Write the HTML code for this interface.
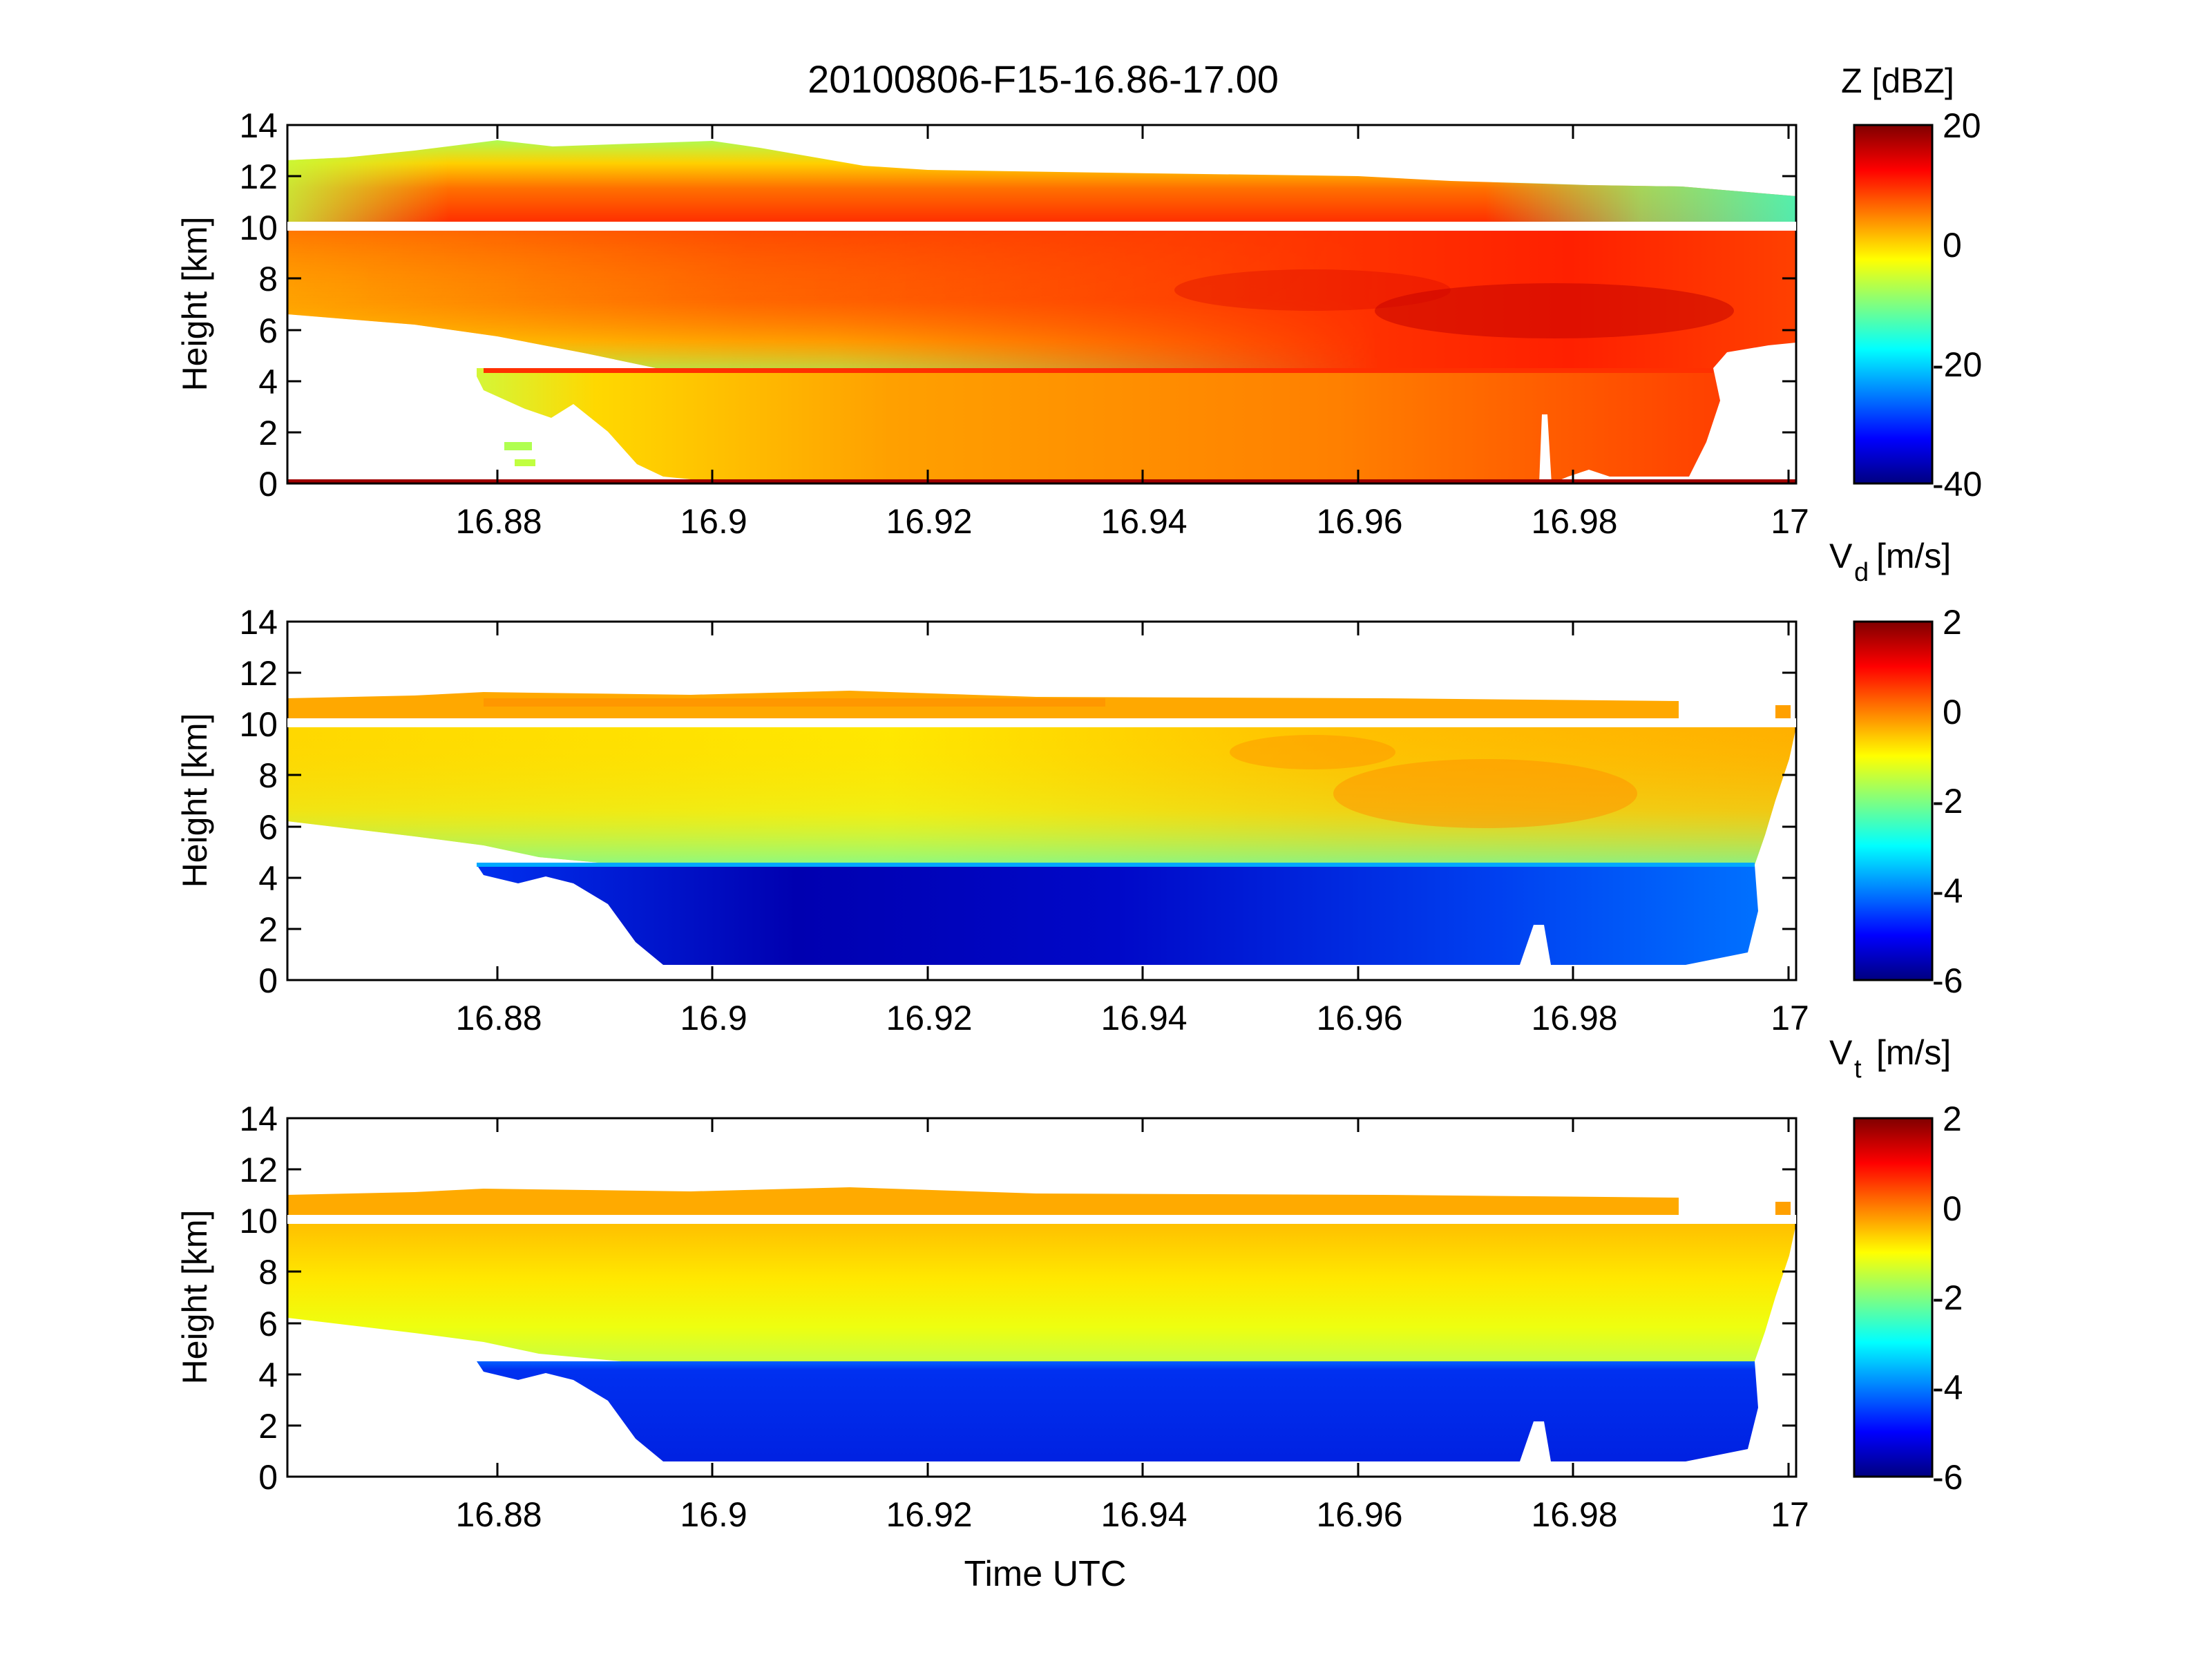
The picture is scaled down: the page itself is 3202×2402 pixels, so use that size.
<!DOCTYPE html>
<html><head><meta charset="utf-8"><style>
html,body{margin:0;padding:0;background:#fff;}
svg{display:block;}
text{font-family:"Liberation Sans",Arial,sans-serif;fill:#000;}
</style></head><body>
<svg width="3202" height="2402" viewBox="0 0 3202 2402" xmlns="http://www.w3.org/2000/svg">
<defs>
<linearGradient id="jet" x1="0" y1="0" x2="0" y2="1">
<stop offset="0" stop-color="#800000"/><stop offset="0.125" stop-color="#ff0000"/>
<stop offset="0.375" stop-color="#ffff00"/><stop offset="0.625" stop-color="#00ffff"/>
<stop offset="0.875" stop-color="#0000ff"/><stop offset="1" stop-color="#000080"/>
</linearGradient>
<linearGradient id="zTop" gradientUnits="userSpaceOnUse" x1="0" y1="200" x2="0" y2="321">
<stop offset="0" stop-color="#a8ff58"/><stop offset="0.3" stop-color="#ffd000"/>
<stop offset="0.6" stop-color="#ff7000"/><stop offset="1" stop-color="#ff3000"/>
</linearGradient>
<linearGradient id="zTopR" gradientUnits="userSpaceOnUse" x1="2150" y1="0" x2="2600" y2="0">
<stop offset="0" stop-color="#80ff80" stop-opacity="0"/><stop offset="0.5" stop-color="#80ff80" stop-opacity="0.7"/><stop offset="1" stop-color="#40ffc0" stop-opacity="0.9"/>
</linearGradient>
<linearGradient id="zTopL" gradientUnits="userSpaceOnUse" x1="416" y1="0" x2="650" y2="0">
<stop offset="0" stop-color="#c0ff40" stop-opacity="0.8"/><stop offset="1" stop-color="#c0ff40" stop-opacity="0"/>
</linearGradient>
<linearGradient id="zMain" gradientUnits="userSpaceOnUse" x1="416" y1="0" x2="2600" y2="0">
<stop offset="0" stop-color="#ffa000"/><stop offset="0.3" stop-color="#ff6000"/>
<stop offset="0.6" stop-color="#ff4000"/><stop offset="0.85" stop-color="#ff2000"/><stop offset="1" stop-color="#ff4000"/>
</linearGradient>
<linearGradient id="zMainV" gradientUnits="userSpaceOnUse" x1="0" y1="334" x2="0" y2="533">
<stop offset="0" stop-color="#ff0000" stop-opacity="0.25"/><stop offset="0.5" stop-color="#ffb000" stop-opacity="0.1"/>
<stop offset="0.8" stop-color="#ffe000" stop-opacity="0.6"/><stop offset="1" stop-color="#b0ff50" stop-opacity="0.9"/>
</linearGradient>
<linearGradient id="fadeH" gradientUnits="userSpaceOnUse" x1="416" y1="0" x2="2000" y2="0">
<stop offset="0" stop-color="#fff"/><stop offset="0.5" stop-color="#fff" stop-opacity="0.8"/><stop offset="1" stop-color="#fff" stop-opacity="0"/>
</linearGradient>
<mask id="mFade" maskUnits="userSpaceOnUse" x="0" y="0" width="3202" height="800">
<rect x="416" y="300" width="2184" height="260" fill="url(#fadeH)"/>
</mask>
<linearGradient id="zLow" gradientUnits="userSpaceOnUse" x1="640" y1="0" x2="2490" y2="0">
<stop offset="0" stop-color="#c8ff48"/><stop offset="0.12" stop-color="#ffd800"/>
<stop offset="0.35" stop-color="#ffa000"/><stop offset="0.7" stop-color="#ff8000"/><stop offset="1" stop-color="#ff4000"/>
</linearGradient>
<linearGradient id="vdMain" gradientUnits="userSpaceOnUse" x1="416" y1="0" x2="2600" y2="0">
<stop offset="0" stop-color="#ffd800"/><stop offset="0.4" stop-color="#ffe800"/>
<stop offset="0.7" stop-color="#ffc000"/><stop offset="1" stop-color="#ffb000"/>
</linearGradient>
<linearGradient id="vdMainV" gradientUnits="userSpaceOnUse" x1="0" y1="334" x2="0" y2="533">
<stop offset="0" stop-color="#ffd000" stop-opacity="0"/><stop offset="0.6" stop-color="#d0ff40" stop-opacity="0.3"/>
<stop offset="1" stop-color="#70ffa0" stop-opacity="0.8"/>
</linearGradient>
<linearGradient id="vdBlue" gradientUnits="userSpaceOnUse" x1="690" y1="0" x2="2540" y2="0">
<stop offset="0" stop-color="#0030f0"/><stop offset="0.25" stop-color="#0000b0"/>
<stop offset="0.5" stop-color="#0008c8"/><stop offset="0.8" stop-color="#0040f0"/><stop offset="1" stop-color="#0070ff"/>
</linearGradient>
<linearGradient id="vtMain" gradientUnits="userSpaceOnUse" x1="0" y1="334" x2="0" y2="533">
<stop offset="0" stop-color="#ffc000"/><stop offset="0.4" stop-color="#ffe800"/>
<stop offset="0.75" stop-color="#eeff10"/><stop offset="1" stop-color="#c8ff40"/>
</linearGradient>
<linearGradient id="vtBlue" gradientUnits="userSpaceOnUse" x1="0" y1="533" x2="0" y2="690">
<stop offset="0" stop-color="#0060ff"/><stop offset="0.08" stop-color="#0030f0"/><stop offset="1" stop-color="#0020e0"/>
</linearGradient>
<g id="frame">
<rect x="416" y="181" width="2184" height="519" fill="none" stroke="#000" stroke-width="3"/>
<path d="M416 700h20M416 626h20M416 552h20M416 478h20M416 403h20M416 329h20M416 255h20M416 181h20
M2600 700h-20M2600 626h-20M2600 552h-20M2600 478h-20M2600 403h-20M2600 329h-20M2600 255h-20M2600 181h-20
M720 700v-20M1031 700v-20M1343 700v-20M1654 700v-20M1966 700v-20M2277 700v-20M2589 700v-20
M720 181v20M1031 181v20M1343 181v20M1654 181v20M1966 181v20M2277 181v20M2589 181v20" stroke="#000" stroke-width="3" fill="none"/>
<g font-size="50" text-anchor="end">
<text x="402" y="718">0</text><text x="402" y="644">2</text><text x="402" y="570">4</text><text x="402" y="496">6</text>
<text x="402" y="421">8</text><text x="402" y="347">10</text><text x="402" y="273">12</text><text x="402" y="199">14</text>
</g>
<g font-size="50" text-anchor="middle">
<text x="722" y="772">16.88</text><text x="1033" y="772">16.9</text><text x="1345" y="772">16.92</text>
<text x="1656" y="772">16.94</text><text x="1968" y="772">16.96</text><text x="2279" y="772">16.98</text><text x="2591" y="772">17</text>
</g>
<text font-size="50" text-anchor="middle" transform="translate(299,440) rotate(-90)">Height [km]</text>
<rect x="2684" y="181" width="113" height="519" fill="url(#jet)" stroke="#000" stroke-width="3"/>
</g>
</defs>

<text x="1510" y="134" font-size="56" text-anchor="middle">20100806-F15-16.86-17.00</text>

<!-- Panel 1 Z -->
<g>
<polygon fill="url(#zTop)" points="416,232 500,228 600,218 720,203 800,212 1031,204 1100,214 1250,240 1343,246 1600,250 1966,255 2100,262 2300,268 2434,270 2600,284 2600,321 416,321"/>
<polygon fill="url(#zTopR)" points="2150,262 2300,268 2434,270 2600,284 2600,321 2150,321"/>
<polygon fill="url(#zTopL)" points="416,232 500,228 650,215 650,321 416,321"/>
<polygon fill="url(#zMain)" points="416,334 2600,334 2600,496 2560,500 2500,510 2480,533 950,533 850,512 720,487 600,470 416,455"/>
<polygon fill="url(#zMainV)" mask="url(#mFade)" points="416,334 2600,334 2600,533 950,533 850,512 720,487 600,470 416,455"/>
<ellipse cx="2250" cy="450" rx="260" ry="40" fill="#c00000" opacity="0.5"/>
<ellipse cx="1900" cy="420" rx="200" ry="30" fill="#d00000" opacity="0.3"/>
<polygon fill="url(#zLow)" points="690,533 2480,533 2490,580 2470,640 2445,690 2330,690 2300,680 2270,690 2246,700 2240,600 2232,600 2228,700 2153,700 1000,694 960,690 922,672 880,625 830,585 798,605 760,592 700,565 690,545"/>
<rect x="700" y="533" width="1780" height="7" fill="#ff3000"/>
<rect x="416" y="694" width="2184" height="6" fill="#a00000"/>
<rect x="730" y="640" width="40" height="12" fill="#b0ff50"/><rect x="745" y="665" width="30" height="10" fill="#c0ff40"/>
<use href="#frame"/>
<rect x="416" y="321" width="2184" height="13" fill="#fff"/>
<text x="2747" y="134" font-size="50" text-anchor="middle">Z [dBZ]</text>
<g font-size="50"><text x="2812" y="199">20</text><text x="2812" y="372">0</text><text x="2797" y="545">-20</text><text x="2797" y="718">-40</text></g>
</g>

<!-- Panel 2 Vd -->
<g transform="translate(0,719)">
<polygon fill="#ffa800" points="416,292 600,288 700,283 1000,287 1230,281 1500,290 2000,292 2430,296 2430,321 416,321"/>
<rect x="700" y="292" width="900" height="12" fill="#ff8c00" opacity="0.6"/>
<rect x="2570" y="302" width="22" height="19" fill="#ffa000"/>
<polygon fill="url(#vdMain)" points="416,334 2600,334 2590,380 2570,440 2555,490 2540,533 900,533 780,522 700,505 600,492 416,470"/>
<polygon fill="url(#vdMainV)" points="416,334 2600,334 2590,380 2570,440 2555,490 2540,533 900,533 780,522 700,505 600,492 416,470"/>
<ellipse cx="2150" cy="430" rx="220" ry="50" fill="#ff9000" opacity="0.5"/>
<ellipse cx="1900" cy="370" rx="120" ry="25" fill="#ff9000" opacity="0.45"/>
<polygon fill="url(#vdBlue)" points="690,533 2540,533 2545,600 2530,660 2440,678 2245,678 2235,620 2220,620 2200,678 960,678 920,645 880,590 830,560 790,550 750,560 700,548"/>
<rect x="690" y="530" width="1850" height="6" fill="#00a8ff"/>
<use href="#frame"/>
<rect x="416" y="321" width="2184" height="13" fill="#fff"/>
<text x="2648" y="103" font-size="50">V</text><text x="2684" y="122" font-size="38">d</text><text x="2716" y="103" font-size="50">[m/s]</text>
<g font-size="50"><text x="2812" y="199">2</text><text x="2812" y="329">0</text><text x="2797" y="458">-2</text><text x="2797" y="588">-4</text><text x="2797" y="718">-6</text></g>
</g>

<!-- Panel 3 Vt -->
<g transform="translate(0,1438)">
<polygon fill="#ffaa00" points="416,292 600,288 700,283 1000,287 1230,281 1500,290 2000,292 2430,296 2430,321 416,321"/>
<rect x="2570" y="302" width="22" height="19" fill="#ffa000"/>
<polygon fill="url(#vtMain)" points="416,334 2600,334 2590,380 2570,440 2555,490 2540,533 900,533 780,522 700,505 600,492 416,470"/>
<polygon fill="url(#vtBlue)" points="690,533 2540,533 2545,600 2530,660 2440,678 2245,678 2235,620 2220,620 2200,678 960,678 920,645 880,590 830,560 790,550 750,560 700,548"/>
<use href="#frame"/>
<rect x="416" y="321" width="2184" height="13" fill="#fff"/>
<text x="2648" y="103" font-size="50">V</text><text x="2684" y="122" font-size="38">t</text><text x="2716" y="103" font-size="50">[m/s]</text>
<g font-size="50"><text x="2812" y="199">2</text><text x="2812" y="329">0</text><text x="2797" y="458">-2</text><text x="2797" y="588">-4</text><text x="2797" y="718">-6</text></g>
</g>

<text x="1513" y="2296" font-size="52" text-anchor="middle">Time UTC</text>
</svg>
</body></html>
